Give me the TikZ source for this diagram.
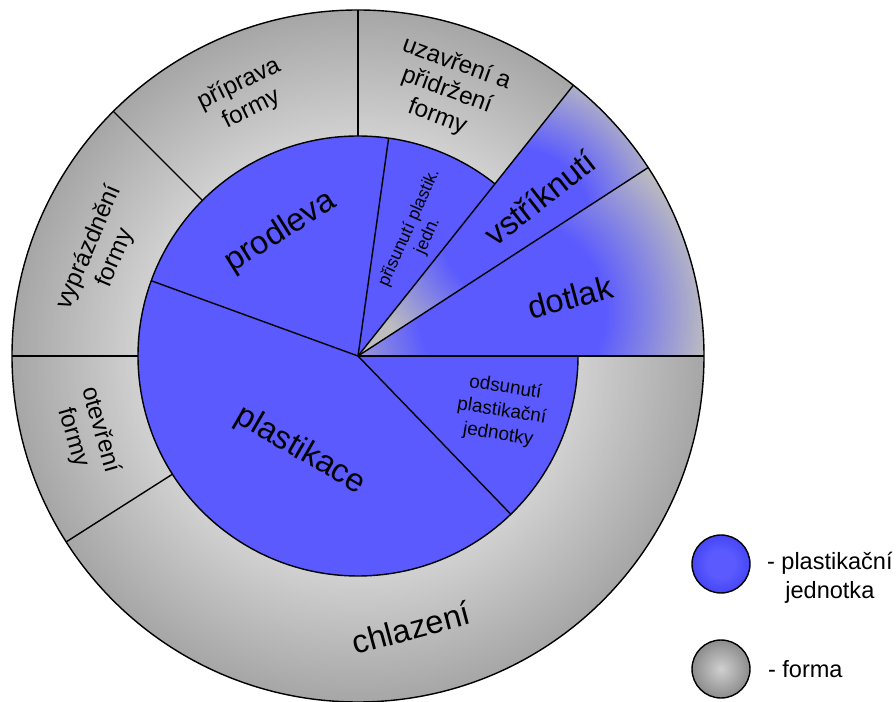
\documentclass[tikz,border=0pt]{standalone}
\usepackage{fontspec}
\setmainfont{Liberation Sans}
\usepackage{tikz}
\usetikzlibrary{positioning}
\definecolor{plastblue}{RGB}{90,90,255}
\definecolor{plastdark}{RGB}{70,70,245}
\definecolor{formgray}{RGB}{190,190,190}
\definecolor{formlight}{RGB}{208,208,208}
\definecolor{formdark}{RGB}{166,166,166}
\definecolor{balldark}{RGB}{140,140,140}
\pgfdeclareradialshading{ringshade}{\pgfpoint{0bp}{0bp}}{color(0bp)=(formlight); color(16bp)=(formlight); color(25bp)=(formdark); color(50bp)=(formdark)}
\pgfdeclareradialshading{wedgeshade}{\pgfpoint{0bp}{0bp}}{color(0bp)=(plastblue); color(7bp)=(plastblue); color(15bp)=(formgray); color(50bp)=(formgray)}
\pgfdeclareradialshading{legendgray}{\pgfpoint{0bp}{0bp}}{color(0bp)=(formlight); color(25bp)=(balldark); color(50bp)=(balldark)}
\pgfdeclareradialshading{legendblue}{\pgfpoint{0bp}{0bp}}{color(0bp)=(plastblue); color(12bp)=(plastblue); color(25bp)=(plastdark); color(50bp)=(plastdark)}
\tikzstyle{biglabel} = [font=\fontsize{18.5}{21}\selectfont]
\tikzstyle{midlabel} = [font=\fontsize{13.8}{16}\selectfont, align=center]
\tikzstyle{smalllabel} = [font=\fontsize{10.8}{13.5}\selectfont, align=center]
\tikzstyle{spoke} = [line width=0.8pt]
\tikzstyle{legendball} = [circle, draw=black, line width=0.8pt, minimum size=1.16cm, inner sep=0pt, shade]
\tikzstyle{legendtext} = [font=\fontsize{13.4}{16.5}\selectfont, align=center, inner sep=0pt]

\begin{document}
\begin{tikzpicture}[x=0.02cm, y=0.02cm]
    \useasboundingbox (-358,-346) rectangle (538,356);

    % forma
    \shade[shading=ringshade] (0,0) circle (346);
    % plastikacni jednotka
    \fill[plastblue] (0,0) -- (51.5:220) arc (51.5:360:220) -- cycle;
    \begin{scope}
      \clip (0,0) -- (33:346) arc (33:51.5:346) -- cycle;
      \shade[shading=wedgeshade] (40:205) circle (270);
    \end{scope}
    \begin{scope}
      \clip (0,0) -- (0:346) arc (0:33:346) -- cycle;
      \shade[shading=wedgeshade] (16:160) circle (330);
    \end{scope}

    \draw[spoke] (0,0) circle (346);
    \draw[spoke] (51.5:220) arc (51.5:360:220);
    \draw[spoke] (0,0) -- (0:346);
    \draw[spoke] (0,0) -- (33:346);
    \draw[spoke] (0,0) -- (51.5:346);
    \draw[spoke] (0,0) -- (82:220);
    \draw[spoke] (0,0) -- (160:220);
    \draw[spoke] (0,0) -- (-46:220);
    \draw[spoke] (90:220) -- (90:346);
    \draw[spoke] (135:220) -- (135:346);
    \draw[spoke] (180:220) -- (180:346);
    \draw[spoke] (212.5:220) -- (212.5:346);

    \node (priprava) [midlabel, rotate=26] at (113.5:283) {příprava\\formy};
    \node (uzavreni) [midlabel, rotate=-20] at (71.5:280) {uzavření a\\přidržení\\formy};
    \node (vyprazdneni) [midlabel, rotate=67] at (158:276) {vyprázdnění\\formy};
    \node (otevreni) [midlabel, rotate=-74] at (196:282) {otevření\\formy};
    \node (chlazeni) [biglabel, rotate=15] at (-79:277) {chlazení};
    \node (vstriknuti) [biglabel, rotate=38] at (41:241) {vstříknutí};
    \node (dotlak) [biglabel, rotate=15] at (15.5:220) {dotlak};
    \node (prodleva) [biglabel, rotate=32] at (122:146) {prodleva};
    \node (plastikace) [biglabel, rotate=-30] at (238.6:111) {plastikace};
    \node (prisunuti) [smalllabel, rotate=66, font=\fontsize{10}{11.5}\selectfont] at (64:138) {přisunutí plastik.\\jedn.};
    \node (odsunuti) [smalllabel, rotate=-9] at (-21:154) {odsunutí\\plastikační\\jednotky};

    \node (legblue) [legendball, shading=legendblue] at (363,-208) {};
    \node (legform) [legendball, shading=legendgray] at (363,-313) {};
    \node (legbluetext) [legendtext, right=0.32cm of legblue, yshift=-0.27cm] {- plastikační\\jednotka};
    \node (legformtext) [legendtext, right=0.34cm of legform] {- forma};

  \end{tikzpicture}
\end{document}
